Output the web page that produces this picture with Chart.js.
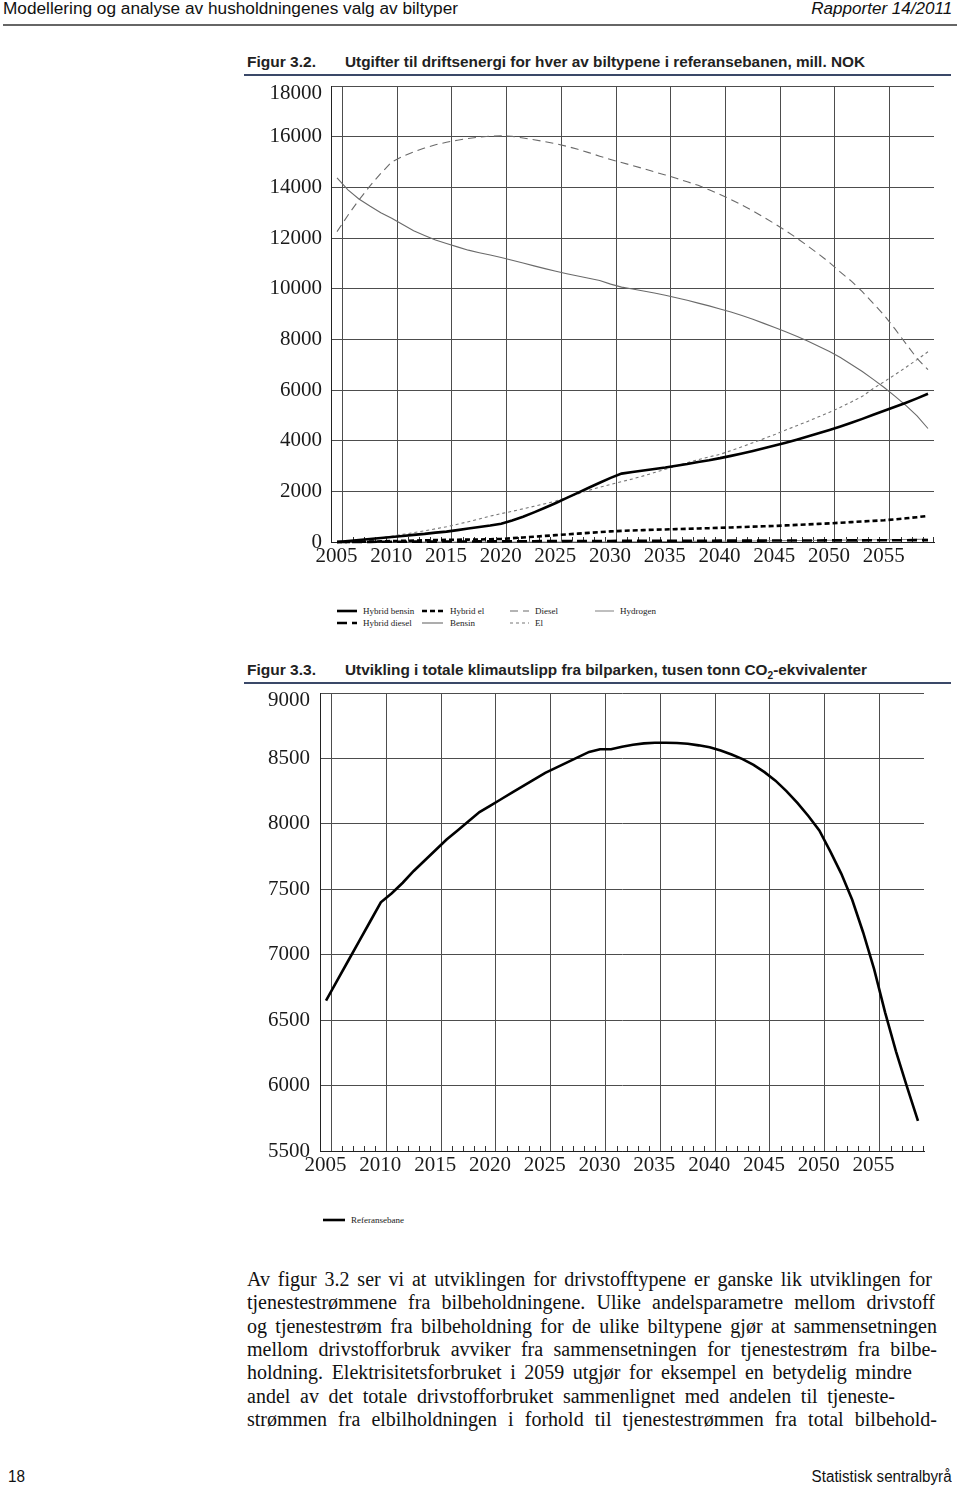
<!DOCTYPE html>
<html><head><meta charset="utf-8">
<script src="https://cdn.jsdelivr.net/npm/chart.js@4.4.1/dist/chart.umd.min.js"></script>
<style>
html,body{margin:0;padding:0;background:#fff;}
body{width:960px;height:1489px;position:relative;overflow:hidden;font-family:'Liberation Sans',Arial,sans-serif;color:#111;}
.t{position:absolute;white-space:nowrap;display:inline-block;}
.rule{position:absolute;}
.pl{position:absolute;left:247px;white-space:nowrap;font-family:'Liberation Serif','Times New Roman',serif;font-size:20px;line-height:22px;color:#111;}
canvas{position:absolute;}
.lg{position:absolute;white-space:nowrap;font-family:'Liberation Serif','Times New Roman',serif;font-size:9px;line-height:10px;color:#222;}
</style></head>
<body>
<div class="t" id="hdrL" data-fit="455" style="left:3px;top:0px;font-size:16px;line-height:18px;">Modellering og analyse av husholdningenes valg av biltyper</div>
<div class="t" id="hdrR" data-fit="141" data-origin="right" style="right:8px;top:0px;font-size:16px;line-height:18px;font-style:italic;">Rapporter 14/2011</div>
<div class="rule" style="left:3px;top:24px;width:954px;height:2px;background:#666;"></div>

<div class="t" data-fit="69" style="left:247px;top:53px;font-size:15px;line-height:18px;font-weight:bold;color:#222;">Figur 3.2.</div>
<div class="t" data-fit="520" style="left:345px;top:53px;font-size:15px;line-height:18px;font-weight:bold;color:#222;">Utgifter til driftsenergi for hver av biltypene i referansebanen, mill. NOK</div>
<div class="rule" style="left:244px;top:74px;width:707px;height:2px;background:#3a4868;"></div>
<canvas id="c1" width="710" height="508" style="left:240px;top:62px;width:710px;height:508px;"></canvas>
<div id="leg1"></div>

<div class="t" data-fit="69" style="left:247px;top:661px;font-size:15px;line-height:18px;font-weight:bold;color:#222;">Figur 3.3.</div>
<div class="t" data-fit="522" style="left:345px;top:661px;font-size:15px;line-height:18px;font-weight:bold;color:#222;">Utvikling i totale klimautslipp fra bilparken, tusen tonn CO<sub style="font-size:10px;line-height:0;">2</sub>-ekvivalenter</div>
<div class="rule" style="left:244px;top:682px;width:707px;height:2px;background:#3a4868;"></div>
<canvas id="c2" width="710" height="512" style="left:240px;top:668px;width:710px;height:512px;"></canvas>
<div id="leg2"></div>

<div class="pl" data-right="932" style="top:1268px;">Av figur 3.2 ser vi at utviklingen for drivstofftypene er ganske lik utviklingen for</div>
<div class="pl" data-right="935" style="top:1291px;">tjenestestrømmene fra bilbeholdningene. Ulike andelsparametre mellom drivstoff</div>
<div class="pl" data-right="937" style="top:1315px;">og tjenestestrøm fra bilbeholdning for de ulike biltypene gjør at sammensetningen</div>
<div class="pl" data-right="937" style="top:1338px;">mellom drivstofforbruk avviker fra sammensetningen for tjenestestrøm fra bilbe-</div>
<div class="pl" data-right="912" style="top:1361px;">holdning. Elektrisitetsforbruket i 2059 utgjør for eksempel en betydelig mindre</div>
<div class="pl" data-right="895" style="top:1385px;">andel av det totale drivstofforbruket sammenlignet med andelen til tjeneste-</div>
<div class="pl" data-right="937" style="top:1408px;">strømmen fra elbilholdningen i forhold til tjenestestrømmen fra total bilbehold-</div>

<div class="t" data-fit="17" style="left:8px;top:1468px;font-size:16px;line-height:18px;">18</div>
<div class="t" data-fit="140" data-origin="right" style="right:8px;top:1468px;font-size:16px;line-height:18px;">Statistisk sentralbyrå</div>

<script>
// ---------- DATA ----------
const YEARS = [2005,2006,2007,2008,2009,2010,2011,2012,2013,2014,2015,2016,2017,2018,2019,2020,2021,2022,2023,2024,2025,2026,2027,2028,2029,2030,2031,2032,2033,2034,2035,2036,2037,2038,2039,2040,2041,2042,2043,2044,2045,2046,2047,2048,2049,2050,2051,2052,2053,2054,2055,2056,2057,2058,2059];
const X_TICK_LABELS = ['2005','2010','2015','2020','2025','2030','2035','2040','2045','2050','2055'];

// Figur 3.2 (mill. NOK)
const SERIES_NAMES_32 = ['Hybrid bensin','Hybrid diesel','Hybrid el','Bensin','Diesel','El','Hydrogen'];
const HYBRID_BENSIN = [0,40,80,120,160,200,240,280,320,370,410,470,530,590,650,720,850,1000,1170,1350,1540,1740,1940,2140,2340,2530,2700,2760,2820,2880,2940,3010,3080,3160,3230,3310,3400,3490,3590,3700,3810,3920,4040,4160,4290,4420,4560,4710,4860,5020,5180,5340,5500,5670,5850];
const HYBRID_DIESEL = [0,0,5,5,10,10,10,15,15,15,20,20,20,25,25,25,30,30,30,35,35,35,40,40,40,40,45,45,45,45,50,50,50,50,50,55,55,55,55,55,60,60,60,60,60,65,65,65,65,70,70,70,70,75,75];
const HYBRID_EL = [0,5,10,15,25,35,45,55,65,75,85,90,95,100,110,120,150,180,210,240,270,300,330,360,390,420,440,455,470,485,495,510,520,535,545,560,575,590,605,620,635,655,675,695,715,735,760,785,810,835,860,895,935,980,1030];
const BENSIN = [14370,13900,13540,13260,13000,12780,12530,12290,12100,11920,11780,11650,11520,11420,11330,11230,11120,11010,10900,10790,10690,10590,10500,10410,10320,10180,10060,9990,9910,9830,9740,9640,9540,9430,9320,9200,9080,8940,8790,8630,8470,8300,8120,7930,7730,7520,7280,7010,6730,6420,6100,5750,5380,4980,4480];
const DIESEL = [12250,12900,13500,14050,14550,15000,15220,15400,15550,15680,15780,15860,15930,15980,16020,16030,16010,15950,15880,15800,15720,15620,15500,15370,15230,15100,14980,14860,14740,14610,14490,14360,14220,14080,13900,13720,13520,13300,13070,12820,12560,12290,12000,11690,11370,11030,10650,10300,9880,9420,8950,8400,7820,7250,6800];
const EL = [0,20,60,110,170,230,300,370,440,520,600,700,800,910,1020,1120,1210,1310,1410,1510,1620,1760,1900,2040,2160,2270,2380,2490,2610,2740,2870,3000,3130,3250,3360,3460,3610,3760,3920,4080,4240,4420,4590,4760,4940,5120,5320,5530,5750,6060,6330,6610,6900,7200,7510];
const HYDROGEN = [0,0,0,0,0,0,0,0,0,0,0,0,0,0,0,0,0,0,0,0,0,0,0,0,0,5,8,10,12,15,18,20,23,26,29,32,35,38,42,46,50,54,58,62,66,70,74,78,82,86,90,95,100,105,110];

// Figur 3.3 (tusen tonn CO2-ekv.)
const SERIES_NAMES_33 = ['Referansebane'];
const REFERANSEBANE = [6650,6800,6950,7100,7250,7400,7470,7550,7640,7720,7800,7880,7950,8020,8090,8140,8190,8240,8290,8340,8390,8430,8470,8510,8550,8570,8570,8590,8605,8615,8620,8620,8618,8612,8600,8585,8560,8530,8495,8450,8395,8330,8250,8160,8060,7950,7790,7620,7420,7170,6890,6560,6260,5990,5730];

// ---------- STYLE ----------
const GRID_OFFSET = 0.5;           // vertical grid lines sit half a year right of the label year
const X_MIN = 2004.45, X_MAX = 2059.55;
const TICK_FONT = {family:"'Liberation Serif','Times New Roman',serif", size:21};
const TOP_TICK_FONT = {family:"'Liberation Serif','Times New Roman',serif", size:21, lineHeight:'15px'};
const GRID_COLOR = '#4d4d4d';

const pts = arr => YEARS.map((yr,i)=>({x:yr, y:arr[i]}));

const minorTicks = {
  id:'minorTicks',
  beforeDatasetsDraw(chart){
    const xs = chart.scales.x, ys = chart.scales.y, ctx = chart.ctx;
    const majors = X_TICK_LABELS.map(Number);
    ctx.save(); ctx.strokeStyle = '#333'; ctx.lineWidth = 1;
    YEARS.forEach(yr=>{
      if (majors.includes(yr)) return;
      const v = yr + GRID_OFFSET; if (v >= X_MAX) return;
      const px = Math.round(xs.getPixelForValue(v)) + 0.5;
      ctx.beginPath(); ctx.moveTo(px, ys.bottom); ctx.lineTo(px, ys.bottom - 5); ctx.stroke();
    });
    ctx.restore();
  }
};

function xAxis(h){
  return {
    type:'linear', min:X_MIN, max:X_MAX,
    afterBuildTicks(s){ s.ticks = X_TICK_LABELS.map(l=>({value:Number(l)+GRID_OFFSET})); },
    afterFit(s){ s.height = h; },
    grid:{color:GRID_COLOR, lineWidth:1, drawTicks:false},
    border:{display:true, color:'#222', width:1},
    ticks:{autoSkip:false, maxRotation:0, padding:2, labelOffset:-6, color:'#1a1a1a', font:TICK_FONT,
      callback:(v)=>String(Math.round(v-GRID_OFFSET))}
  };
}
function yAxis(min,max,step,w,pad){
  return {
    min, max,
    afterFit(s){ s.width = w; },
    grid:{color:GRID_COLOR, lineWidth:1, drawTicks:false},
    border:{display:true, color:'#222', width:1},
    ticks:{stepSize:step, padding:pad, color:'#1a1a1a',
      // the top label sits a little below its grid line, as in the original
      font:(c)=> (c.tick && c.tick.value===max) ? TOP_TICK_FONT : TICK_FONT,
      callback:v=> v===max ? ['', String(v)] : String(v)}
  };
}

const STYLES_32 = [
  {c:'#000', w:2.6, d:[]},
  {c:'#000', w:2.6, d:[10,5]},
  {c:'#000', w:2.6, d:[5,3]},
  {c:'#6a6a6a', w:1.1, d:[]},
  {c:'#6a6a6a', w:1.1, d:[8,5]},
  {c:'#777', w:1.1, d:[3,3]},
  {c:'#8a8a8a', w:1.1, d:[]}
];
const DATA_32 = [HYBRID_BENSIN,HYBRID_DIESEL,HYBRID_EL,BENSIN,DIESEL,EL,HYDROGEN];

Chart.defaults.devicePixelRatio = 1;
Chart.defaults.animation = false;

const chart1 = new Chart(document.getElementById('c1'), {
  type:'line',
  data:{datasets: SERIES_NAMES_32.map((n,i)=>({
    label:n, data:pts(DATA_32[i]), borderColor:STYLES_32[i].c, backgroundColor:STYLES_32[i].c,
    borderWidth:STYLES_32[i].w, borderDash:STYLES_32[i].d, pointRadius:0, tension:0, clip:4, fill:false
  }))},
  options:{
    responsive:false, animation:false,
    layout:{padding:{top:0, right:16, left:0, bottom:0}},
    plugins:{legend:{display:false}, tooltip:{enabled:false}},
    scales:{ x:xAxis(28), y:yAxis(0,18000,2000,91,9) }
  },
  plugins:[minorTicks]
});

const chart2 = new Chart(document.getElementById('c2'), {
  type:'line',
  data:{datasets:[{label:SERIES_NAMES_33[0], data:pts(REFERANSEBANE), borderColor:'#000', backgroundColor:'#000',
    borderWidth:2.6, borderDash:[], pointRadius:0, tension:0, fill:false}]},
  options:{
    responsive:false, animation:false,
    layout:{padding:{top:0, right:26, left:0, bottom:0}},
    plugins:{legend:{display:false}, tooltip:{enabled:false}},
    scales:{ x:xAxis(29), y:yAxis(5500,9000,500,80,10) }
  },
  plugins:[minorTicks]
});

// ---------- HTML legends built from the charts' legend items ----------
function buildLegend(chart, host, slots){
  const items = Chart.defaults.plugins.legend.labels.generateLabels(chart);
  let html = '';
  items.forEach((it,i)=>{
    const s = slots[i]; if(!s) return;
    const dash = (it.lineDash||[]).join(',');
    html += `<svg style="position:absolute;left:${s.x}px;top:${s.y-4}px" width="${s.w}" height="8"><line x1="0" y1="4" x2="${s.w}" y2="4" stroke="${it.strokeStyle}" stroke-width="${it.lineWidth}" ${dash?`stroke-dasharray="${dash}"`:''}/></svg>`;
    html += `<div class="lg" style="left:${s.tx}px;top:${s.y-5}px">${it.text}</div>`;
  });
  host.innerHTML = html;
}
const C = [{x:337,w:20,tx:363},{x:422,w:21,tx:450},{x:510,w:19,tx:535},{x:595,w:19,tx:620}];
const R = [611,622.5];
buildLegend(chart1, document.getElementById('leg1'), [
  {...C[0],y:R[0]},{...C[0],y:R[1]},{...C[1],y:R[0]},{...C[1],y:R[1]},{...C[2],y:R[0]},{...C[2],y:R[1]},{...C[3],y:R[0]}
]);
buildLegend(chart2, document.getElementById('leg2'), [{x:323,w:22,tx:351,y:1220}]);

// ---------- text fitting ----------
function fitAll(){
  document.querySelectorAll('[data-fit]').forEach(el=>{
    el.style.transform='none';
    const w = el.getBoundingClientRect().width, t = +el.dataset.fit;
    el.style.transformOrigin = el.dataset.origin==='right' ? 'right center' : 'left center';
    el.style.transform = `scaleX(${t/w})`;
  });
  document.querySelectorAll('.pl').forEach(el=>{
    el.style.wordSpacing='0px';
    const w = el.getBoundingClientRect().width;
    const target = (+el.dataset.right) - 247;
    const n = (el.textContent.match(/ /g)||[]).length;
    el.style.wordSpacing = ((target - w)/n) + 'px';
  });
}
fitAll();
if (document.fonts && document.fonts.ready) document.fonts.ready.then(fitAll);
</script>
</body></html>
